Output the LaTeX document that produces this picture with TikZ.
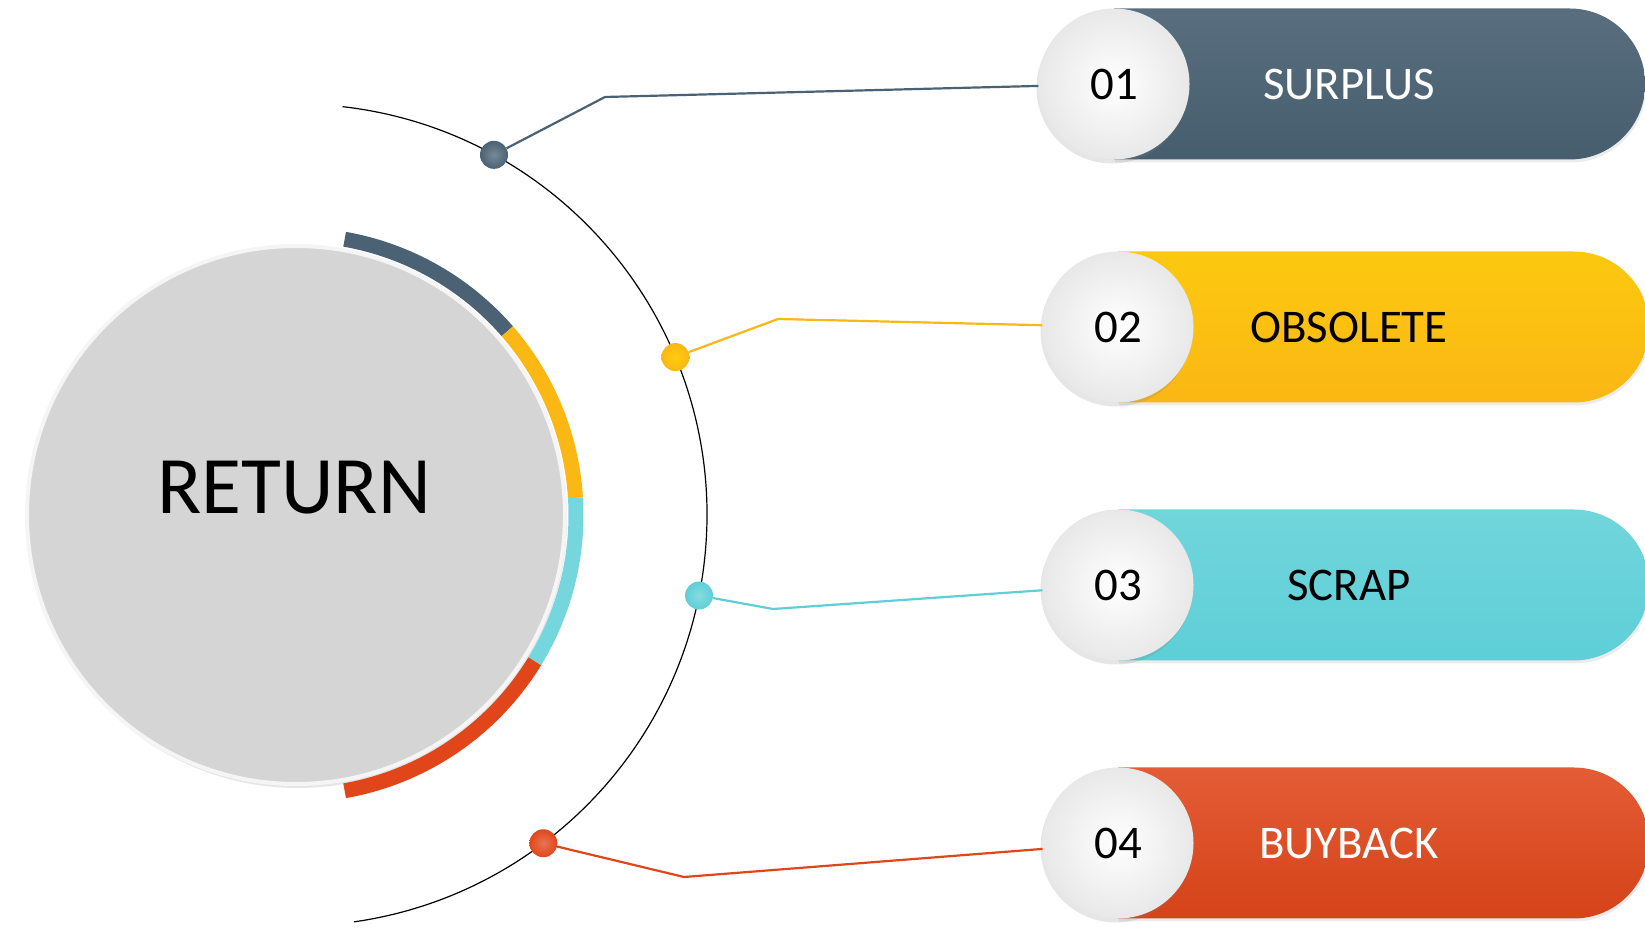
\documentclass[tikz,border=0pt]{standalone}
\usepackage{fontspec}
\setmainfont{Carlito}
\usepackage{tikz}
\usetikzlibrary{shapes,shadows}
\definecolor{slate}{HTML}{4A6274}
\definecolor{gold}{HTML}{FBB714}
\definecolor{aqua}{HTML}{5ECFD7}
\definecolor{rust}{HTML}{E0461A}
\definecolor{disc}{HTML}{D5D5D5}
\newcommand{\bigtxt}[1]{\fontsize{#1}{#1}\selectfont}

\begin{document}
\begin{tikzpicture}
      \tikzstyle{every node}=[font=\bigtxt{47}]
      \tikzstyle{pill}=[rounded rectangle,rounded rectangle left arc=none,anchor=west,
        minimum width=531bp,minimum height=151bp,inner sep=0pt,
        drop shadow={opacity=.15,shadow xshift=1bp,shadow yshift=-3bp}]
      \tikzstyle{num}=[circle,minimum size=151bp,inner sep=0pt,inner color=white,outer color=black!9,
        drop shadow={opacity=.2,shadow xshift=-2bp,shadow yshift=-4bp}]
      \tikzstyle{dot}=[circle,minimum size=28bp,inner sep=0pt]
      \tikzstyle{link}=[line width=2.2bp]
      \tikzstyle{band}=[line width=15bp]
      \useasboundingbox (0bp,0bp) rectangle (1645bp,929bp);
      %%
\begin{scope}[shift={(296bp,414bp)}]
  \draw [line width=1.2bp] (83.5:411bp) arc (83.5:-81.9:411bp);
  \node (ret) at (0,0) [circle,minimum size=538bp,inner sep=0pt,fill=disc,draw=white!92!gray,line width=4bp,
    drop shadow={opacity=.2,shadow xshift=2bp,shadow yshift=-4bp}] {};
  \draw [band,slate] (80:280bp) arc (80:41:280bp);
  \draw [band,gold] (41:280bp) arc (41:3.5:280bp);
  \draw [band,aqua!85!white] (3.5:280bp) arc (3.5:-31.5:280bp);
  \draw [band,rust] (-31.5:280bp) arc (-31.5:-80:280bp);
  \node (d_1) at (61.2:411bp) [dot,inner color=slate!75!white,outer color=slate] {};
  \node (d_2) at (22.6:411bp) [dot,inner color=gold!70!yellow,outer color=gold] {};
  \node (d_3) at (-11.3:411bp) [dot,inner color=aqua!75!white,outer color=aqua] {};
  \node (d_4) at (-53:411bp) [dot,inner color=rust!75!white,outer color=rust] {};
\end{scope}
  \node (lbl) at (294bp,441bp) {\bigtxt{82}RETURN};
  %%
  \node (p_1) at (1114bp,845bp) [pill,top color=slate!92!white,bottom color=slate!95!black] {};
  \node (p_2) at (1118bp,602bp) [pill,top color=gold!75!yellow,bottom color=gold] {};
  \node (p_3) at (1118bp,344bp) [pill,top color=aqua!88!white,bottom color=aqua] {};
  \node (p_4) at (1118bp,86bp) [pill,top color=rust!88!white,bottom color=rust!95!black] {};
  \node (n_1) at (1114bp,845bp) [num] {01};
  \node (n_2) at (1118bp,602bp) [num] {02};
  \node (n_3) at (1118bp,344bp) [num] {03};
  \node (n_4) at (1118bp,86bp) [num] {04};
  \node (t_1) at (1349bp,845bp) [text=white] {SURPLUS};
  \node (t_2) at (1349bp,602bp) {OBSOLETE};
  \node (t_3) at (1349bp,344bp) {SCRAP};
  \node (t_4) at (1349bp,86bp) [text=white] {BUYBACK};
  %%
  \coordinate (b_1) at (605bp,832bp);
  \coordinate (b_2) at (778bp,610bp);
  \coordinate (b_3) at (773bp,320bp);
  \coordinate (b_4) at (684bp,52bp);
  \draw [link,slate] (d_1) -- (b_1) -- (n_1);
  \draw [link,gold] (d_2) -- (b_2) -- (n_2);
  \draw [link,aqua] (d_3) -- (b_3) -- (n_3);
  \draw [link,rust] (d_4) -- (b_4) -- (n_4);
%
    \end{tikzpicture}
\end{document}
